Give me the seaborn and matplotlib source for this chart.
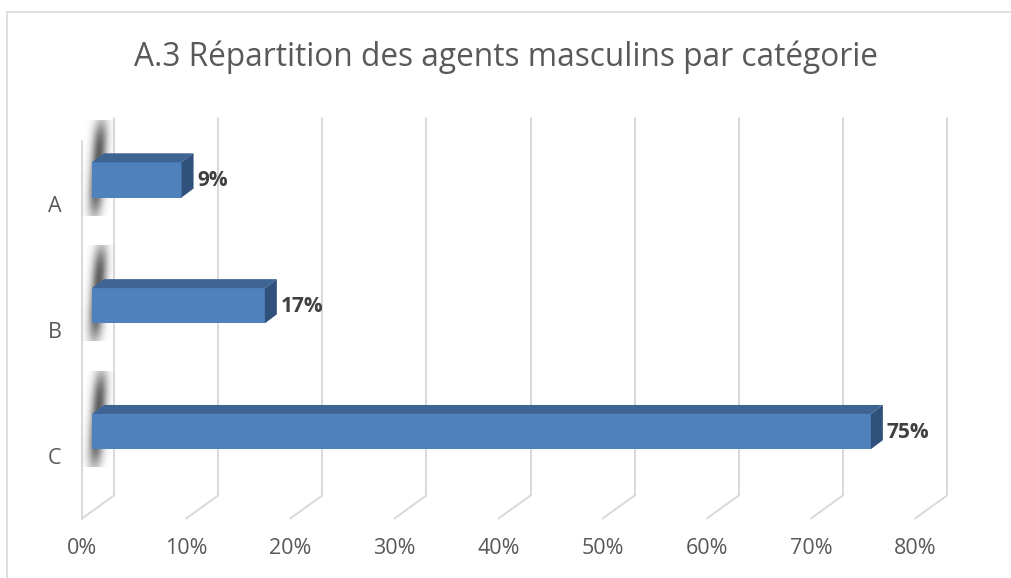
import numpy as np
import pandas as pd
import matplotlib
matplotlib.use('Agg')
import matplotlib.pyplot as plt
import matplotlib.transforms as mtrans
from matplotlib.patches import Polygon
from matplotlib.lines import Line2D
import seaborn as sns

# data
categories = ['A', 'B', 'C']
shares = [8.6, 16.6, 74.8]
x_ticks = [0, 10, 20, 30, 40, 50, 60, 70, 80]
title = 'A.3 Répartition des agents masculins par catégorie'

sns.set_style('white')
plt.rcParams['font.family'] = ['Open Sans', 'DejaVu Sans']

c_front = '#4F81BD'
c_top = '#3E6494'
c_side = '#30517C'
c_grid = '#D9D9D9'
c_text = '#595959'

W, H = 1012, 578
fig = plt.figure(figsize=(W / 100, H / 100), dpi=100)
# axes = plane of the bar fronts
ax = fig.add_axes([92 / W, 1 - 494.5 / H, 833 / W, 377.5 / H])

df = pd.DataFrame({'cat': categories, 'share': shares})
sns.barplot(data=df, x='share', y='cat', orient='h', color=c_front,
            saturation=1, width=0.28, linewidth=0, ax=ax, zorder=5)
ax.set_xlim(0, 80)
ax.set_ylim(2.5, -0.5)
ax.axis('off')

ident = mtrans.IdentityTransform()
front_off = (-10, -24)   # front plane of the 3d box, in pixels
back_off = (22, -1)      # back wall
depth = (12, 9)          # bar depth

def disp(x, y, off=(0, 0)):
    X, Y = ax.transData.transform((x, y))
    return X + off[0], Y + off[1]

ymin, ymax = -0.5, 2.5

# back gridlines + floor diagonals
for v in x_ticks:
    b0 = disp(v, ymin, back_off)
    b1 = disp(v, ymax, back_off)
    f1 = disp(v, ymax, front_off)
    ax.add_line(Line2D([b0[0], b1[0]], [b0[1], b1[1]], transform=ident,
                       color=c_grid, lw=1.4, clip_on=False, zorder=1))
    ax.add_line(Line2D([f1[0], b1[0]], [f1[1], b1[1]], transform=ident,
                       color=c_grid, lw=1.4, clip_on=False, zorder=1))
    ax.text(v, ymax, f'{v}%', transform=mtrans.offset_copy(
        ax.transData, fig=fig, x=-10, y=-54.5, units='dots'),
        ha='center', va='center', fontsize=15.5, color=c_text)

# left wall front edge
f0 = disp(0, ymin, front_off)
f1 = disp(0, ymax, front_off)
ax.add_line(Line2D([f0[0], f1[0]], [f0[1], f1[1]], transform=ident,
                   color=c_grid, lw=1.4, clip_on=False, zorder=1))

# 3d faces, shadows and labels for each bar
for i, p in enumerate(ax.patches):
    x0, y0 = p.get_x(), p.get_y()
    w, h = p.get_width(), p.get_height()
    (X0, Ya), (X1, Yb) = ax.transData.transform([(x0, y0), (x0 + w, y0 + h)])
    Yt, Ybot = max(Ya, Yb), min(Ya, Yb)
    dx, dy = depth

    top = [(X0, Yt), (X1, Yt), (X1 + dx, Yt + dy), (X0 + dx, Yt + dy)]
    side = [(X1, Yt), (X1, Ybot), (X1 + dx, Ybot + dy), (X1 + dx, Yt + dy)]
    ax.add_patch(Polygon(top, closed=True, transform=ident, facecolor=c_top,
                         edgecolor='none', zorder=6, clip_on=False))
    ax.add_patch(Polygon(side, closed=True, transform=ident, facecolor=c_side,
                         edgecolor='none', zorder=6, clip_on=False))

    # soft shadow on the left wall
    sh_top = Yt + 42
    sh_bot = Ybot - 18
    rows = int(sh_top - sh_bot)
    xs = np.arange(36) + (X0 - 12)
    ys = np.linspace(sh_top, sh_bot, rows)
    frac = (sh_top - ys) / (sh_top - sh_bot)
    xc = (X0 + 9) - 7 * frac
    alpha = np.exp(-((xs[None, :] - xc[:, None]) / 7.5) ** 2)
    mid = (sh_top + sh_bot) / 2
    half = (sh_top - sh_bot) / 2
    alpha *= np.exp(-((ys - mid) / half) ** 4)[:, None] * 0.75
    img = np.zeros((rows, 36, 4))
    img[..., :3] = 0.15
    img[..., 3] = alpha
    ax.imshow(img, extent=(xs[0], xs[-1] + 1, sh_bot, sh_top), transform=ident,
              aspect='auto', zorder=2, clip_on=False, interpolation='bilinear')

    ax.text(x0 + w, i, f'{round(shares[i])}%', transform=mtrans.offset_copy(
        ax.transData, fig=fig, x=16, y=-1, units='dots'),
        ha='left', va='center', fontsize=15, fontweight='bold', color='#404040',
        zorder=7)

# category labels
for i, c in enumerate(categories):
    ax.text(0, i, c, transform=mtrans.offset_copy(
        ax.transData, fig=fig, x=-37, y=-27, units='dots'),
        ha='center', va='center', fontsize=15.5, color=c_text)

fig.text(0.5, 1 - 57 / H, title, ha='center', va='center',
         fontsize=22.8, color=c_text)

# chart border
fig.add_artist(Line2D([7.5 / W, 7.5 / W], [0, 1 - 11.5 / H], transform=fig.transFigure,
                      color=c_grid, lw=1.2))
fig.add_artist(Line2D([7.5 / W, 1], [1 - 11.5 / H, 1 - 11.5 / H], transform=fig.transFigure,
                      color=c_grid, lw=1.2))

ax.set_xlim(0, 80)
ax.set_ylim(2.5, -0.5)
fig.savefig('out.png', dpi=100)
